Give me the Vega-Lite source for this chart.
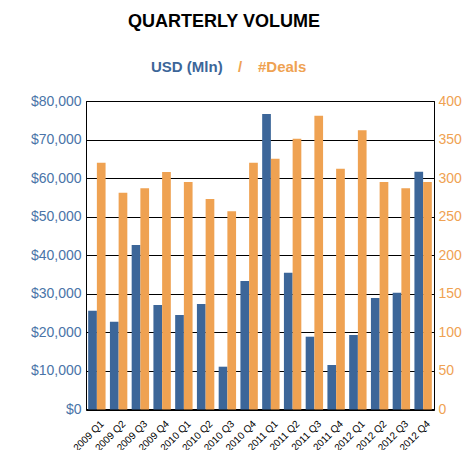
{
  "$schema": "https://vega.github.io/schema/vega-lite/v6.json",
  "autosize": "none",
  "width": 348,
  "height": 308.5,
  "padding": {"left": 86, "top": 101, "right": 29, "bottom": 40.5},
  "background": "white",
  "title": {"text": "QUARTERLY VOLUME", "anchor": "middle", "dx": -36, "fontSize": 18, "font": "Liberation Sans", "fontWeight": "bold", "color": "black", "offset": 28},
  "data": {"values": [
    {"q": "2009 Q1", "series": "USD (Mln)", "value": 25600}, {"q": "2009 Q1", "series": "#Deals", "value": 320},
    {"q": "2009 Q2", "series": "USD (Mln)", "value": 22770}, {"q": "2009 Q2", "series": "#Deals", "value": 281},
    {"q": "2009 Q3", "series": "USD (Mln)", "value": 42660}, {"q": "2009 Q3", "series": "#Deals", "value": 287},
    {"q": "2009 Q4", "series": "USD (Mln)", "value": 27100}, {"q": "2009 Q4", "series": "#Deals", "value": 308},
    {"q": "2010 Q1", "series": "USD (Mln)", "value": 24500}, {"q": "2010 Q1", "series": "#Deals", "value": 295},
    {"q": "2010 Q2", "series": "USD (Mln)", "value": 27360}, {"q": "2010 Q2", "series": "#Deals", "value": 273},
    {"q": "2010 Q3", "series": "USD (Mln)", "value": 11100}, {"q": "2010 Q3", "series": "#Deals", "value": 257},
    {"q": "2010 Q4", "series": "USD (Mln)", "value": 33320}, {"q": "2010 Q4", "series": "#Deals", "value": 320},
    {"q": "2011 Q1", "series": "USD (Mln)", "value": 76630}, {"q": "2011 Q1", "series": "#Deals", "value": 325},
    {"q": "2011 Q2", "series": "USD (Mln)", "value": 35470}, {"q": "2011 Q2", "series": "#Deals", "value": 351},
    {"q": "2011 Q3", "series": "USD (Mln)", "value": 18880}, {"q": "2011 Q3", "series": "#Deals", "value": 381},
    {"q": "2011 Q4", "series": "USD (Mln)", "value": 11540}, {"q": "2011 Q4", "series": "#Deals", "value": 312},
    {"q": "2012 Q1", "series": "USD (Mln)", "value": 19320}, {"q": "2012 Q1", "series": "#Deals", "value": 362},
    {"q": "2012 Q2", "series": "USD (Mln)", "value": 28910}, {"q": "2012 Q2", "series": "#Deals", "value": 295},
    {"q": "2012 Q3", "series": "USD (Mln)", "value": 30290}, {"q": "2012 Q3", "series": "#Deals", "value": 287},
    {"q": "2012 Q4", "series": "USD (Mln)", "value": 61670}, {"q": "2012 Q4", "series": "#Deals", "value": 295}
  ]},
  "encoding": {
    "x": {"field": "q", "type": "nominal", "sort": null,
      "scale": {"paddingInner": 0.2, "paddingOuter": 0.1},
      "axis": {"title": null, "labelAngle": -45, "labelAlign": "right", "labelBaseline": "top", "labelFontSize": 10, "labelFont": "Liberation Sans", "labelColor": "black", "ticks": false, "domainColor": "black", "domainWidth": 2, "labelPadding": 9, "labelOffset": 2}},
    "xOffset": {"field": "series", "type": "nominal", "scale": {"domain": ["USD (Mln)", "#Deals"], "paddingInner": 0, "paddingOuter": 0}},
    "color": {"field": "series", "type": "nominal",
      "scale": {"domain": ["USD (Mln)", "/", "#Deals"], "range": ["#3C6699", "#EFA252", "#EFA252"]},
      "legend": {"orient": "none", "legendX": 50, "legendY": -42, "direction": "horizontal", "title": null,
        "symbolOpacity": 0, "symbolSize": 0, "symbolStrokeWidth": 0, "labelOffset": 0, "columnPadding": 0,
        "labelFont": "Liberation Sans", "labelFontSize": 15, "labelFontWeight": "bold",
        "encode": {"labels": {"update": {"fill": {"signal": "scale('color', datum.value)"}}}}}}
  },
  "layer": [
    {
      "transform": [{"filter": "datum.series === 'USD (Mln)'"}],
      "mark": {"type": "bar"},
      "encoding": {
        "y": {"field": "value", "type": "quantitative",
          "scale": {"domain": [0, 80000], "nice": false},
          "axis": {"orient": "left", "title": null, "format": "$,d", "values": [0, 10000, 20000, 30000, 40000, 50000, 60000, 70000, 80000],
            "grid": true, "gridColor": "black", "gridOpacity": 1, "gridWidth": 1, "ticks": false,
            "labelColor": "#4A74A8", "labelFontSize": 14, "labelFont": "Liberation Sans", "labelPadding": 5,
            "domainColor": "black", "domainWidth": 1}}
      }
    },
    {
      "transform": [{"filter": "datum.series === '#Deals'"}],
      "mark": {"type": "bar"},
      "encoding": {
        "y": {"field": "value", "type": "quantitative",
          "scale": {"domain": [0, 400], "nice": false},
          "axis": {"orient": "right", "title": null, "values": [0, 50, 100, 150, 200, 250, 300, 350, 400],
            "grid": false, "ticks": false,
            "labelColor": "#EFA252", "labelFontSize": 14, "labelFont": "Liberation Sans", "labelPadding": 4,
            "domainColor": "black", "domainWidth": 1}}
      }
    }
  ],
  "resolve": {"scale": {"y": "independent"}},
  "config": {"view": {"stroke": "black", "strokeWidth": 1}}
}
